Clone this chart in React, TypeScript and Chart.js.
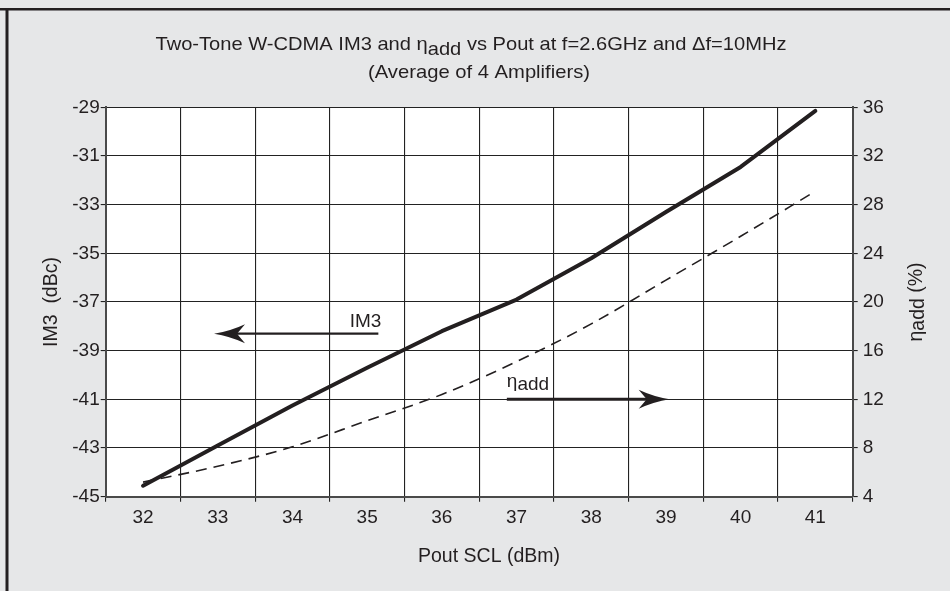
import React, { useEffect, useRef } from "react";
import { Chart, registerables } from "chart.js";

Chart.register(...registerables);

// Output power (dBm), one category per measured point
const poutLabels = ["32", "33", "34", "35", "36", "37", "38", "39", "40", "41"];
// Third-order intermod, averaged over 4 amplifiers (dBc)
const im3Dbc = [-44.55, -42.9, -41.25, -39.7, -38.2, -36.9, -35.2, -33.3, -31.45, -29.15];
// Power-added efficiency (%)
const etaAddPct = [5.2, 6.5, 8.1, 10.25, 12.4, 15.1, 18.2, 21.8, 25.4, 29.1];

const im3TickValues = [-45, -43, -41, -39, -37, -35, -33, -31, -29];
const etaTickValues = [4, 8, 12, 16, 20, 24, 28, 32, 36];

// Callout arrows: Pout span and level on the axis the arrow points to
const im3Callout = { fromPout: 35.15, toPout: 32.95, level: -38.3 };
const etaCallout = { fromPout: 36.87, toPout: 39.05, level: 12 };

const FONT = '"Liberation Sans", Arial, Helvetica, sans-serif';
const INK = "#231f20";
const PAPER = "#e6e7e8";

type Seg = { t: string; dy?: number };

function drawSegments(ctx: CanvasRenderingContext2D, segs: Seg[], cx: number, y: number, size: number, width?: number) {
  ctx.save();
  ctx.font = `${size}px ${FONT}`;
  ctx.fillStyle = INK;
  ctx.textBaseline = "alphabetic";
  ctx.textAlign = "left";
  const total = segs.reduce((s, g) => s + ctx.measureText(g.t).width, 0);
  const sx = width ? width / total : 1;
  ctx.translate(cx, y);
  ctx.scale(sx, 1);
  let x = -total / 2;
  for (const g of segs) {
    ctx.fillText(g.t, x, g.dy || 0);
    x += ctx.measureText(g.t).width;
  }
  ctx.restore();
}

function drawArrow(ctx: CanvasRenderingContext2D, x0: number, x1: number, y: number, lw: number) {
  const dir = Math.sign(x1 - x0);
  const headLen = 31;
  const half = 9.5;
  ctx.save();
  ctx.strokeStyle = INK;
  ctx.fillStyle = INK;
  ctx.lineWidth = lw;
  ctx.beginPath();
  ctx.moveTo(x0, y);
  ctx.lineTo(x1 - dir * 20, y);
  ctx.stroke();
  ctx.beginPath();
  ctx.moveTo(x1, y);
  ctx.quadraticCurveTo(x1 - dir * 16, y - 2.5, x1 - dir * headLen, y - half);
  ctx.lineTo(x1 - dir * (headLen - 8), y);
  ctx.lineTo(x1 - dir * headLen, y + half);
  ctx.quadraticCurveTo(x1 - dir * 16, y + 2.5, x1, y);
  ctx.closePath();
  ctx.fill();
  ctx.restore();
}

const framePlugin = {
  id: "frame",
  beforeDraw(chart: any) {
    const { ctx, width, height, chartArea: a } = chart;
    ctx.save();
    ctx.fillStyle = PAPER;
    ctx.fillRect(0, 0, width, height);
    ctx.fillStyle = "#ffffff";
    ctx.fillRect(a.left, a.top, a.right - a.left, a.bottom - a.top);
    ctx.fillStyle = INK;
    ctx.fillRect(0, 8, width, 2.5);
    ctx.fillRect(5.5, 8, 3, height - 8);
    ctx.restore();
  },
};

const notesPlugin = {
  id: "notes",
  afterDraw(chart: any) {
    const { ctx, chartArea: a } = chart;
    const xs = chart.scales.x;
    const yl = chart.scales.yIm3;
    const yr = chart.scales.yEta;
    const px = (p: number) => xs.getPixelForValue(p - Number(poutLabels[0]));

    // Title
    drawSegments(ctx, [
      { t: "Two-Tone W-CDMA IM3 and \u03b7" },
      { t: "add", dy: 5 },
      { t: " vs Pout at f=2.6GHz and \u0394f=10MHz" },
    ], 471, 50, 18.5, 631);
    drawSegments(ctx, [{ t: "(Average of 4 Amplifiers)" }], 479, 78, 18.5, 222);

    // Axis titles
    drawSegments(ctx, [{ t: "Pout SCL (dBm)" }], 489, 562, 19.5);
    const midY = (a.top + a.bottom) / 2;
    ctx.save();
    ctx.translate(50, midY);
    ctx.rotate(-Math.PI / 2);
    drawSegments(ctx, [{ t: "IM3  (dBc)" }], 0, 7, 19.5);
    ctx.restore();
    ctx.save();
    ctx.translate(915, midY);
    ctx.rotate(-Math.PI / 2);
    drawSegments(ctx, [{ t: "\u03b7" }, { t: "add", dy: 2 }, { t: " (%)" }], 0, 7, 19.5);
    ctx.restore();

    // IM3 callout, pointing to the left axis
    const iy = yl.getPixelForValue(im3Callout.level);
    const ix0 = px(im3Callout.fromPout);
    const ix1 = px(im3Callout.toPout);
    drawArrow(ctx, ix0, ix1, iy, 2.2);
    ctx.save();
    ctx.font = `19px ${FONT}`;
    ctx.fillStyle = INK;
    ctx.textAlign = "right";
    ctx.fillText("IM3", ix0 + 3, iy - 7);
    ctx.restore();

    // Efficiency callout, pointing to the right axis
    const ey = yr.getPixelForValue(etaCallout.level);
    const ex0 = px(etaCallout.fromPout);
    const ex1 = px(etaCallout.toPout);
    drawArrow(ctx, ex0, ex1, ey, 3);
    ctx.save();
    ctx.font = `19px ${FONT}`;
    ctx.fillStyle = INK;
    ctx.textAlign = "left";
    ctx.fillText("\u03b7", ex0, ey - 12);
    const w = ctx.measureText("\u03b7").width;
    ctx.fillText("add", ex0 + w, ey - 9);
    ctx.restore();
  },
};

export default function App() {
  const ref = useRef<HTMLCanvasElement | null>(null);

  useEffect(() => {
    if (!ref.current) return;
    const tickFont = { family: FONT, size: 19 };
    const chart = new Chart(ref.current, {
      type: "line",
      data: {
        labels: poutLabels,
        datasets: [
          {
            label: "IM3",
            data: im3Dbc,
            yAxisID: "yIm3",
            borderColor: INK,
            borderWidth: 4,
            pointRadius: 0,
            tension: 0,
            borderCapStyle: "round",
            borderJoinStyle: "round",
          },
          {
            label: "\u03b7add",
            data: etaAddPct,
            yAxisID: "yEta",
            borderColor: INK,
            borderWidth: 1.6,
            borderDash: [11, 7],
            pointRadius: 0,
            cubicInterpolationMode: "monotone",
          },
        ],
      },
      options: {
        responsive: false,
        animation: false,
        devicePixelRatio: 1,
        events: [],
        layout: { padding: { top: 107.3, left: 0, right: 0, bottom: 0 } },
        plugins: {
          legend: { display: false },
          title: { display: false },
          tooltip: { enabled: false },
        },
        scales: {
          x: {
            type: "category",
            offset: true,
            grid: { offset: true, color: "#222222", lineWidth: 1.1, tickLength: 5, drawTicks: true },
            border: { color: "#4a4a4a", width: 2 },
            ticks: { font: tickFont, color: INK, padding: 5, maxRotation: 0, autoSkip: false },
            afterFit: (s: any) => { s.height = 94.3; },
          },
          yIm3: {
            type: "linear",
            position: "left",
            min: -45,
            max: -29,
            afterBuildTicks: (s: any) => { s.ticks = im3TickValues.map((v) => ({ value: v })); },
            grid: { color: "#222222", lineWidth: 1.1, tickLength: 5 },
            border: { color: "#4a4a4a", width: 2 },
            ticks: { font: tickFont, color: INK, padding: 1 },
            afterFit: (s: any) => { s.width = 105.7; },
          },
          yEta: {
            type: "linear",
            position: "right",
            min: 4,
            max: 36,
            afterBuildTicks: (s: any) => { s.ticks = etaTickValues.map((v) => ({ value: v })); },
            grid: { drawOnChartArea: false, color: "#222222", lineWidth: 1.1, tickLength: 5 },
            border: { color: "#4a4a4a", width: 2 },
            ticks: { font: tickFont, color: INK, padding: 5 },
            afterFit: (s: any) => { s.width = 97.3; },
          },
        },
      } as any,
      plugins: [framePlugin, notesPlugin],
    });
    return () => chart.destroy();
  }, []);

  return (
    <div style={{ position: "fixed", left: 0, top: 0, width: 950, height: 591, background: PAPER }}>
      <canvas ref={ref} width={950} height={591} style={{ display: "block", width: 950, height: 591 }} />
    </div>
  );
}
